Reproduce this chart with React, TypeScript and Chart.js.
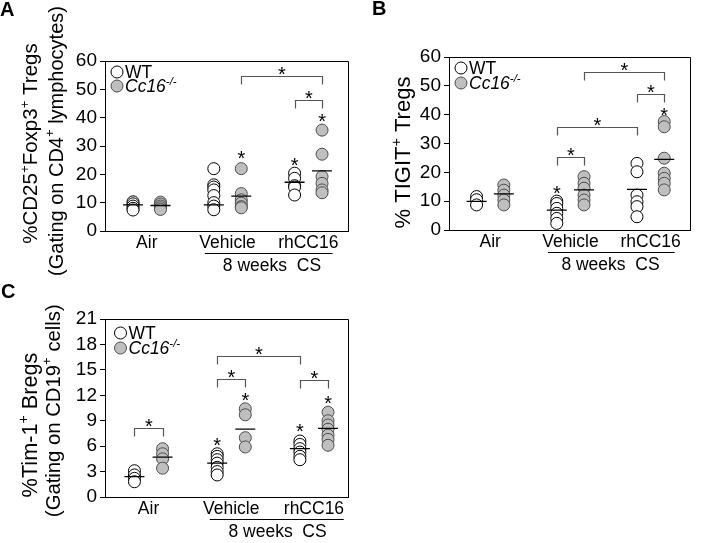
import React, { useEffect, useRef } from "react";
import { Chart, registerables } from "chart.js";
Chart.register(...registerables);

const FONT = "'Liberation Sans', Arial, Helvetica, sans-serif";

// ---------- shared categories ----------
const groupLabels = ["Air", "Vehicle", "rhCC16"];
const groupPos = [1, 2, 3];
const WT_OFF = -0.17;
const KO_OFF = 0.17;
const csLabel = "8 weeks  CS";

// ---------- Panel A: %CD25+Foxp3+ Tregs ----------
const A_wtAir = [10.3, 9.6, 8.8, 8.0, 7.4];
const A_wtVeh = [22, 16.3, 15.5, 14.5, 12.5, 10, 8.8, 7.5];
const A_wtRh = [20.4, 18.6, 16, 15.5, 12.7];
const A_koAir = [10.2, 9.5, 8.8, 8.2, 7.6];
const A_koVeh = [22, 13.2, 11, 9.8, 8.6, 8.2];
const A_koRh = [35.6, 27.1, 19.2, 16.8, 14.5, 13.5];
const A_wtMean = [9.2, 9.2, 17.2];
const A_koMean = [9.0, 12.3, 21.2];
const A_stars = [[2.17, 27.5], [2.83, 25], [3.17, 40.3]];
const A_brackets = [[2.17, 3.17, 54.7], [2.83, 3.17, 46.2]];
const A_yTicks = { min: 0, max: 60, step: 10 };

// ---------- Panel B: % TIGIT+ Tregs ----------
const B_wtAir = [11.6, 10.5, 8.7];
const B_wtVeh = [10, 9.2, 7.5, 5.8, 4, 2.3];
const B_wtRh = [23.1, 20.2, 12.1, 9.8, 8.1, 4.6];
const B_koAir = [15.6, 13.8, 12.1, 10.4, 8.7];
const B_koVeh = [18.5, 16.2, 14.5, 12.1, 10.4, 8.7];
const B_koRh = [37.6, 35.8, 24.9, 19.7, 17.9, 16.2, 13.9];
const B_wtMean = [9.9, 6.9, 14.1];
const B_koMean = [12.5, 13.9, 24.5];
const B_stars = [[1.83, 14.5], [3.17, 41.6]];
const B_brackets = [[2.17, 3.17, 54.9], [2.83, 3.17, 47.1], [1.83, 2.83, 35.8], [1.83, 2.17, 25.4]];
const B_yTicks = { min: 0, max: 60, step: 10 };

// ---------- Panel C: %Tim-1+ Bregs ----------
const C_wtAir = [3.1, 2.6, 2.2, 1.8];
const C_wtVeh = [5.1, 4.8, 4.4, 4.0, 3.5, 3.0, 2.6];
const C_wtRh = [6.6, 6.2, 5.7, 5.3, 4.8, 4.4];
const C_koAir = [5.7, 5.1, 4.5, 3.4];
const C_koVeh = [10.4, 9.7, 7.0, 5.9];
const C_koRh = [10, 9, 8.5, 8, 7.3, 6.8, 6.1];
const C_wtMean = [2.4, 4.0, 5.7];
const C_koMean = [4.7, 8.0, 8.1];
const C_stars = [[1.83, 6.7], [2.17, 12], [2.83, 8.3], [3.17, 11.6]];
const C_brackets = [[0.83, 1.17, 8.1], [1.83, 2.17, 13.9], [1.83, 2.83, 16.6], [2.83, 3.17, 13.8]];
const C_yTicks = { min: 0, max: 21, step: 3 };

type Run = { t: string; sup?: boolean; it?: boolean };

const sup = (t: string): Run => ({ t, sup: true });
const legendRows: Run[][] = [
  [{ t: "WT" }],
  [{ t: "Cc16", it: true }, { t: "-/-", it: true, sup: true }],
];

function runFont(r: Run, size: number) {
  return `${r.it ? "italic " : ""}${r.sup ? size * 0.65 : size}px ${FONT}`;
}
function measureRuns(ctx: CanvasRenderingContext2D, runs: Run[], size: number) {
  let w = 0;
  for (const r of runs) {
    ctx.font = runFont(r, size);
    w += ctx.measureText(r.t).width;
  }
  return w;
}
function drawRuns(
  ctx: CanvasRenderingContext2D,
  runs: Run[],
  x: number,
  y: number,
  size: number,
  align: "left" | "center",
  rotate: boolean
) {
  ctx.save();
  ctx.translate(x, y);
  if (rotate) ctx.rotate(-Math.PI / 2);
  const w = measureRuns(ctx, runs, size);
  let cx = align === "center" ? -w / 2 : 0;
  ctx.textAlign = "left";
  ctx.textBaseline = "alphabetic";
  ctx.fillStyle = "#000";
  const base = size * 0.36;
  for (const r of runs) {
    ctx.font = runFont(r, size);
    ctx.fillText(r.t, cx, r.sup ? base - size * 0.42 : base);
    cx += ctx.measureText(r.t).width;
  }
  ctx.restore();
}

type Panel = {
  key: string;
  left: number;
  top: number;
  w: number;
  h: number;
  pad: { left: number; top: number; right: number; bottom: number };
  yWidth: number;
  xHeight: number;
  xMin: number;
  xMax: number;
  yTicks: { min: number; max: number; step: number };
  wt: number[][];
  ko: number[][];
  wtMean: number[];
  koMean: number[];
  stars: number[][];
  brackets: number[][];
  letter: { t: string; x: number; y: number };
  titles: { runs: Run[]; x: number; y: number; size: number }[];
  legend: { dx: number; dy: number; gap: number };
  cs: { x1: number; x2: number; xc: number };
};

const panels: Panel[] = [
  {
    key: "A",
    left: 0, top: 0, w: 360, h: 275,
    pad: { left: 0, top: 61, right: 7, bottom: 0 },
    yWidth: 105, xHeight: 44,
    xMin: 0.483, xMax: 3.5,
    yTicks: A_yTicks,
    wt: [A_wtAir, A_wtVeh, A_wtRh],
    ko: [A_koAir, A_koVeh, A_koRh],
    wtMean: A_wtMean, koMean: A_koMean,
    stars: A_stars, brackets: A_brackets,
    letter: { t: "A", x: 0, y: 16 },
    titles: [
      { runs: [{ t: "%CD25" }, sup("+"), { t: "Foxp3" }, sup("+"), { t: " Tregs" }], x: 30, y: 143.5, size: 20.5 },
      { runs: [{ t: "(Gating on CD4" }, sup("+"), { t: " lymphocytes)" }], x: 55.5, y: 141, size: 20 },
    ],
    legend: { dx: 12, dy: 11, gap: 14 },
    cs: { x1: 1.72, x2: 3.3, xc: 2.55 },
  },
  {
    key: "B",
    left: 360, top: 0, w: 342, h: 275,
    pad: { left: 0, top: 57, right: 4, bottom: 0 },
    yWidth: 89, xHeight: 45,
    xMin: 0.486, xMax: 3.5,
    yTicks: B_yTicks,
    wt: [B_wtAir, B_wtVeh, B_wtRh],
    ko: [B_koAir, B_koVeh, B_koRh],
    wtMean: B_wtMean, koMean: B_koMean,
    stars: B_stars, brackets: B_brackets,
    letter: { t: "B", x: 12, y: 15 },
    titles: [
      { runs: [{ t: "% TIGIT" }, sup("+"), { t: " Tregs" }], x: 42.5, y: 152.5, size: 22 },
    ],
    legend: { dx: 12, dy: 11, gap: 15 },
    cs: { x1: 1.72, x2: 3.3, xc: 2.5 },
  },
  {
    key: "C",
    left: 0, top: 275, w: 360, h: 268,
    pad: { left: 0, top: 44, right: 3, bottom: 0 },
    yWidth: 105, xHeight: 46,
    xMin: 0.474, xMax: 3.42,
    yTicks: C_yTicks,
    wt: [C_wtAir, C_wtVeh, C_wtRh],
    ko: [C_koAir, C_koVeh, C_koRh],
    wtMean: C_wtMean, koMean: C_koMean,
    stars: C_stars, brackets: C_brackets,
    letter: { t: "C", x: 1, y: 23 },
    titles: [
      { runs: [{ t: "%Tim-1" }, sup("+"), { t: " Bregs" }], x: 29, y: 150, size: 21.7 },
      { runs: [{ t: "(Gating on CD19" }, sup("+"), { t: " cells)" }], x: 52.5, y: 135.7, size: 20.3 },
    ],
    legend: { dx: 15.5, dy: 14, gap: 15 },
    cs: { x1: 1.74, x2: 3.36, xc: 2.56 },
  },
];

const KO_FILL = "#bfbfbf";
const KO_BORDER = "#4d4d4d";

function drawStar(ctx: CanvasRenderingContext2D, x: number, y: number) {
  const size = 20;
  ctx.font = `${size}px ${FONT}`;
  ctx.textAlign = "center";
  ctx.textBaseline = "alphabetic";
  ctx.fillStyle = "#000";
  ctx.fillText("*", x, y + size * 0.58);
}

function buildConfig(p: Panel): any {
  const pts = (groups: number[][], off: number) =>
    groups.flatMap((vals, g) => vals.map((v) => ({ x: groupPos[g] + off, y: v })));
  const means = (m: number[], off: number) => m.map((v, g) => ({ x: groupPos[g] + off, y: v }));

  const overlay = {
    id: "overlay" + p.key,
    afterDraw(chart: any) {
      const ctx: CanvasRenderingContext2D = chart.ctx;
      const { left, right, top, bottom } = chart.chartArea;
      const xs = chart.scales.x;
      const ys = chart.scales.y;
      ctx.save();
      // top and right frame lines
      ctx.strokeStyle = "#000";
      ctx.lineWidth = 1;
      const t = Math.round(top) + 0.5;
      const r = Math.round(right) - 0.5;
      ctx.beginPath();
      ctx.moveTo(left, t);
      ctx.lineTo(r, t);
      ctx.lineTo(r, bottom);
      ctx.stroke();

      // brackets with stars
      ctx.strokeStyle = "#555";
      ctx.lineWidth = 1.2;
      for (const [x1, x2, yv] of p.brackets) {
        const px1 = Math.round(xs.getPixelForValue(x1)) + 0.5;
        const px2 = Math.round(xs.getPixelForValue(x2)) + 0.5;
        const py = Math.round(ys.getPixelForValue(yv)) + 0.5;
        ctx.beginPath();
        ctx.moveTo(px1, py + 8);
        ctx.lineTo(px1, py);
        ctx.lineTo(px2, py);
        ctx.lineTo(px2, py + 8);
        ctx.stroke();
        drawStar(ctx, (px1 + px2) / 2, py - 7);
      }
      for (const [xv, yv] of p.stars) {
        drawStar(ctx, xs.getPixelForValue(xv), ys.getPixelForValue(yv));
      }

      // legend
      legendRows.forEach((runs, i) => {
        const cx = left + p.legend.dx;
        const cy = top + p.legend.dy + i * p.legend.gap;
        ctx.beginPath();
        ctx.arc(cx, cy, 6, 0, Math.PI * 2);
        ctx.fillStyle = i === 0 ? "#fff" : KO_FILL;
        ctx.fill();
        ctx.lineWidth = 1;
        ctx.strokeStyle = i === 0 ? "#000" : KO_BORDER;
        ctx.stroke();
        drawRuns(ctx, runs, cx + 8, cy, 17.5, "left", false);
      });

      // y titles
      for (const tt of p.titles) drawRuns(ctx, tt.runs, tt.x, tt.y, tt.size, "center", true);

      // 8 weeks CS
      const ux1 = xs.getPixelForValue(p.cs.x1);
      const ux2 = xs.getPixelForValue(p.cs.x2);
      const uy = Math.round(bottom + 22) + 0.5;
      ctx.strokeStyle = "#000";
      ctx.lineWidth = 1;
      ctx.beginPath();
      ctx.moveTo(ux1, uy);
      ctx.lineTo(ux2, uy);
      ctx.stroke();
      drawRuns(ctx, [{ t: csLabel }], xs.getPixelForValue(p.cs.xc), bottom + 34, 17.5, "center", false);

      // panel letter
      ctx.font = `bold 20px ${FONT}`;
      ctx.textAlign = "left";
      ctx.textBaseline = "alphabetic";
      ctx.fillStyle = "#000";
      ctx.fillText(p.letter.t, p.letter.x, p.letter.y);
      ctx.restore();
    },
  };

  return {
    type: "scatter",
    data: {
      datasets: [
        {
          data: means(p.wtMean, WT_OFF),
          pointStyle: "line",
          pointRadius: 10,
          borderColor: "#000",
          borderWidth: 1.3,
          order: 0,
        },
        {
          data: means(p.koMean, KO_OFF),
          pointStyle: "line",
          pointRadius: 10,
          borderColor: "#000",
          borderWidth: 1.3,
          order: 0,
        },
        {
          data: pts(p.ko, KO_OFF),
          pointRadius: 6,
          backgroundColor: KO_FILL,
          borderColor: KO_BORDER,
          borderWidth: 1,
          order: 1,
        },
        {
          data: pts(p.wt, WT_OFF),
          pointRadius: 6,
          backgroundColor: "#fff",
          borderColor: "#000",
          borderWidth: 1,
          order: 2,
        },
      ],
    },
    options: {
      responsive: false,
      animation: false,
      devicePixelRatio: 1,
      layout: { padding: p.pad },
      plugins: { legend: { display: false }, tooltip: { enabled: false } },
      scales: {
        x: {
          type: "linear",
          min: p.xMin,
          max: p.xMax,
          afterFit: (s: any) => {
            s.height = p.xHeight;
          },
          afterBuildTicks: (s: any) => {
            s.ticks = groupPos.map((v) => ({ value: v }));
          },
          ticks: {
            callback: (_v: any, i: number) => groupLabels[i],
            font: { family: FONT, size: 17.5 },
            color: "#000",
            padding: 2,
            maxRotation: 0,
            autoSkip: false,
          },
          grid: { display: false, drawTicks: false },
          border: { display: true, color: "#000", width: 1 },
        },
        y: {
          min: p.yTicks.min,
          max: p.yTicks.max,
          afterFit: (s: any) => {
            s.width = p.yWidth;
          },
          ticks: {
            stepSize: p.yTicks.step,
            font: { family: FONT, size: 19 },
            color: "#000",
            padding: 3,
            autoSkip: false,
          },
          grid: { drawOnChartArea: false, drawTicks: true, tickLength: 5, color: "#000" },
          border: { display: true, color: "#000", width: 1 },
        },
      },
    },
    plugins: [overlay],
  };
}

function PanelChart({ p }: { p: Panel }) {
  const ref = useRef<HTMLCanvasElement>(null);
  useEffect(() => {
    const chart = new Chart(ref.current as HTMLCanvasElement, buildConfig(p));
    return () => chart.destroy();
  }, [p]);
  return (
    <canvas
      ref={ref}
      width={p.w}
      height={p.h}
      style={{ position: "absolute", left: p.left, top: p.top, width: p.w, height: p.h }}
    />
  );
}

export default function App() {
  return (
    <div
      style={{
        position: "absolute",
        left: 0,
        top: 0,
        width: 702,
        height: 543,
        background: "#fff",
        overflow: "hidden",
      }}
    >
      {panels.map((p) => (
        <PanelChart key={p.key} p={p} />
      ))}
    </div>
  );
}
